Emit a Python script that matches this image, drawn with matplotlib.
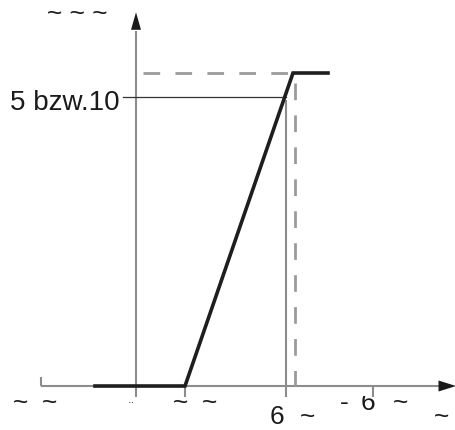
import matplotlib
matplotlib.use('Agg')

import matplotlib.pyplot as plt
from matplotlib.transforms import Bbox, TransformedBbox

plt.rcParams['font.family'] = ['Liberation Sans', 'DejaVu Sans']

# characteristic: flat, linear ramp, saturation
curve_x = [-4.1, 4.9, 15.7, 19.2]
curve_y = [0.0, 0.0, 10.83, 10.83]

# reference level (5 bzw. 10) and the input where the ramp reaches it
ref_level = 10.0
ref_x = 14.9
sat_x = 15.9
sat_level = 10.83

# axis ticks
tick_up = [-9.5]
tick_down = [4.9, 23.7]

# labels: (x, y, text, align)
labels = [
    (-5.9, 12.62, "~ ~ ~", "center"),
    (-1.6, 9.55, "5 bzw.10", "right"),
    (-12.3, -0.83, "~", "left"),
    (-9.4, -0.83, "~", "left"),
    (3.7, -0.83, "~", "left"),
    (6.6, -0.83, "~", "left"),
    (20.4, -0.83, "-", "left"),
    (25.7, -0.83, "~", "left"),
    (13.4, -1.32, "6", "left"),
    (16.4, -1.32, "~", "left"),
    (29.8, -1.32, "~", "left"),
]

fig = plt.figure(figsize=(4.56, 4.30), dpi=100)
ax = fig.add_axes([0, 0, 1, 1])
ax.set_xlim(-13.6, 32.0)
ax.set_ylim(-1.522, 13.356)
ax.axis('off')

axis_col = '#8c8c8c'

# axes with arrow heads
ax.plot([-9.5, 30.8], [0, 0], color=axis_col, lw=1.5, solid_capstyle='butt', zorder=1)
ax.plot([0, 0], [-0.38, 12.3], color=axis_col, lw=1.5, solid_capstyle='butt', zorder=1)
ax.annotate('', xy=(32.0, 0), xytext=(30.6, 0),
            arrowprops=dict(arrowstyle='-|>,head_length=0.7,head_width=0.22',
                            color='#1a1a1a', lw=0, shrinkA=0, shrinkB=0, mutation_scale=18))
ax.annotate('', xy=(0, 12.93), xytext=(0, 12.25),
            arrowprops=dict(arrowstyle='-|>,head_length=0.7,head_width=0.2',
                            color='#1a1a1a', lw=0, shrinkA=0, shrinkB=0, mutation_scale=18))

for t in tick_up:
    ax.plot([t, t], [0, 0.31], color=axis_col, lw=1.5, solid_capstyle='butt')
for t in tick_down:
    ax.plot([t, t], [0, -0.37], color=axis_col, lw=1.5, solid_capstyle='butt')

# reference level and input guide
ax.plot([-1.3, ref_x + 0.1], [ref_level, ref_level], color='#333333', lw=0.9, zorder=2)
ax.plot([ref_x + 0.1, ref_x + 0.1], [-0.38, ref_level - 0.1], color=axis_col, lw=1.5,
        solid_capstyle='butt', zorder=1)

# saturation dashes
ax.plot([0.7, sat_x - 0.2], [sat_level, sat_level], color='#9a9a9a', lw=2.0,
        linestyle=(0, (6.0, 5.5)), zorder=1)
ax.plot([sat_x, sat_x], [sat_level - 0.35, 0], color='#9a9a9a', lw=2.0,
        linestyle=(0, (6.0, 5.5)), zorder=1)

# characteristic curve
ax.plot(curve_x, curve_y, color='#1e1e1e', lw=2.6, solid_joinstyle='miter', zorder=3)

for x, y, s, ha in labels:
    fs = 20 if s == "5 bzw.10" else 19
    ax.text(x, y, s, fontsize=fs, ha=ha, va='baseline', color='#1a1a1a')
ax.text(-0.5, -0.9, "¨", fontsize=10, ha='center', va='baseline', color='#555555')

# the "6" under the right tick is cut off at its top
six = ax.text(22.5, -0.83, "6", fontsize=19, ha='left', va='baseline', color='#1a1a1a')
six.set_clip_box(TransformedBbox(Bbox([[20.0, -1.5], [26.0, -0.36]]), ax.transData))
six.set_clip_on(True)

fig.savefig('out.png', dpi=100)
